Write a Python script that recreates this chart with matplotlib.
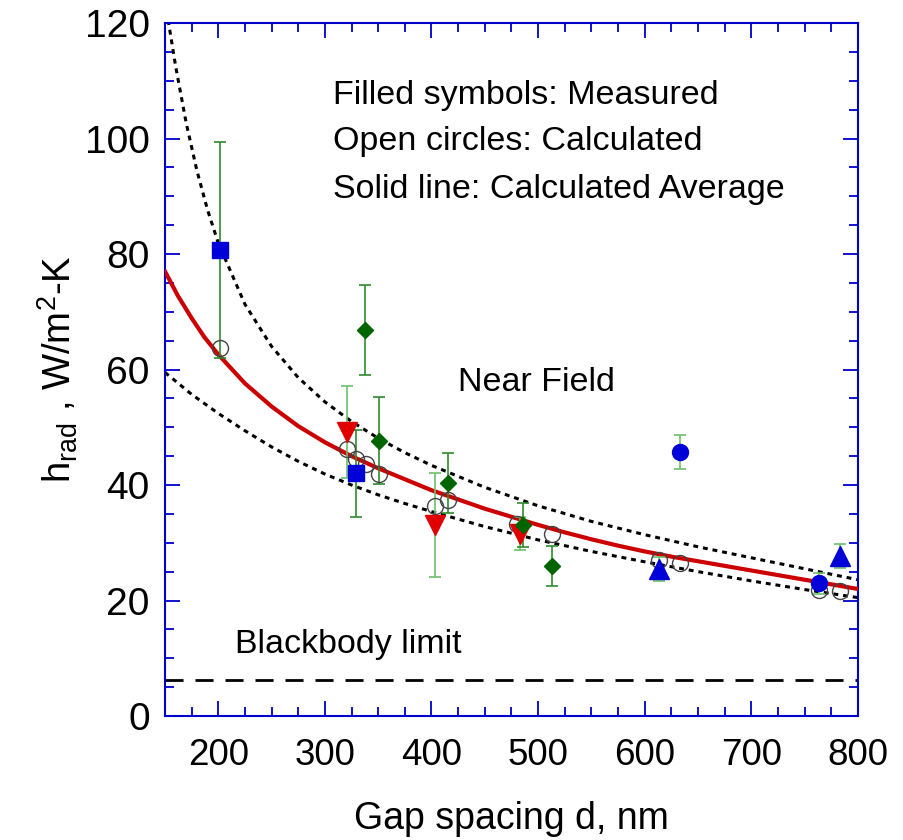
import matplotlib
matplotlib.use('Agg')
import matplotlib.pyplot as plt
from matplotlib.ticker import MultipleLocator

plt.rcParams['font.family'] = ['Liberation Sans', 'DejaVu Sans']
plt.rcParams['mathtext.default'] = 'regular'

# calculated average (solid red line)
avg_d = [150, 162, 175, 187, 200, 225, 250, 275, 300, 325, 350, 375, 400, 425, 450, 475,
         500, 525, 550, 575, 600, 625, 650, 675, 700, 725, 750, 775, 800]
avg_h = [77.0, 72.8, 68.9, 65.6, 62.6, 57.6, 53.6, 50.2, 47.4, 45.0, 42.9, 41.0, 39.1, 37.5,
         35.9, 34.5, 33.1, 31.8, 30.6, 29.5, 28.5, 27.6, 26.8, 26.0, 25.2, 24.4,
         23.6, 22.8, 22.0]

# dotted bounds
upper_d = [153, 160, 170, 180, 190, 200, 225, 250, 275, 300, 325, 350, 375, 400,
           450, 500, 550, 600, 650, 700, 750, 800]
upper_h = [120.5, 112.5, 102.6, 94.4, 87.6, 81.9, 71.3, 64.0, 58.6, 54.4, 51.0,
           48.1, 45.6, 43.4, 39.6, 36.4, 33.7, 31.4, 29.3, 27.4, 25.5, 23.6]
lower_d = [150, 175, 200, 225, 250, 275, 300, 325, 350, 375, 400, 450, 500, 550,
           600, 650, 700, 750, 800]
lower_h = [59.5, 55.7, 52.4, 49.4, 46.6, 44.1, 41.9, 40.0, 38.3, 36.8, 35.4, 32.8,
           30.5, 28.5, 26.7, 25.0, 23.4, 21.9, 20.5]

# calculated values (open circles)
calc_d = [201.6, 321, 329, 338.6, 351, 403.3, 415.8, 480, 513.5, 613.4, 633, 763.5, 783]
calc_h = [63.8, 46.3, 44.5, 43.7, 41.9, 36.4, 37.4, 33.3, 31.5, 27.1, 26.5, 21.9, 21.6]

# measured values with error bars
sq_d, sq_h, sq_err = [201.6, 329], [80.7, 42.0], [18.7, 7.5]
tri_dn_d, tri_dn_h, tri_dn_err = [321, 403.3, 483], [49.2, 33.1, 31.6], [8.0, 9.0, 2.8]
dia_d = [337.6, 351, 415.8, 485.5, 513.5]
dia_h = [66.8, 47.7, 40.3, 33.1, 26.0]
dia_err = [7.75, 7.5, 5.2, 3.75, 3.4]
circ_d, circ_h, circ_err = [633, 763.5], [45.7, 23.0], [2.9, 1.8]
tri_up_d, tri_up_h, tri_up_err = [613.4, 783], [25.5, 27.7], [2.1, 2.0]

blackbody_h = 6.2

axis_blue = '#0000CC'
fig = plt.figure(figsize=(9.04, 8.4), dpi=100)
ax = fig.add_axes([0.1825, 0.1476, 0.7665, 0.825])

ax.plot([150, 800], [blackbody_h, blackbody_h], color='black', lw=2, dashes=(6.5, 4.3), zorder=2)
ax.plot(upper_d, upper_h, color='black', lw=2.2, dashes=(1.6, 1.6), zorder=2)
ax.plot(lower_d, lower_h, color='black', lw=2.2, dashes=(1.6, 1.6), zorder=2)
ax.plot(avg_d, avg_h, color='#CC0000', lw=3, zorder=3)

dark_g, light_g = '#2E8B2E', '#6CBF6C'
ebkw = dict(fmt='none', elinewidth=1.2, capsize=4.3, capthick=1.2, zorder=4)
ax.errorbar(sq_d, sq_h, yerr=sq_err, ecolor=dark_g, **ebkw)
ax.errorbar(tri_dn_d, tri_dn_h, yerr=tri_dn_err, ecolor=light_g, **ebkw)
ax.errorbar(dia_d, dia_h, yerr=dia_err, ecolor=dark_g, **ebkw)
ax.errorbar(circ_d, circ_h, yerr=circ_err, ecolor=light_g, **ebkw)
ax.errorbar(tri_up_d, tri_up_h, yerr=tri_up_err, ecolor=light_g, **ebkw)

ax.plot(calc_d, calc_h, 'o', ms=11.5, mfc='none', mec='#444444', mew=1.0, zorder=5)

ax.plot(sq_d, sq_h, 's', ms=12, color='#0000D8', zorder=6)
ax.plot(tri_dn_d, tri_dn_h, 'v', ms=14, color='#E00000', zorder=6)
ax.plot(dia_d, dia_h, 'D', ms=7.8, color='#006400', zorder=6)
ax.plot(circ_d, circ_h, 'o', ms=11.5, color='#0000D8', zorder=6)
ax.plot(tri_up_d, tri_up_h, '^', ms=14, color='#0000D8', zorder=6)

fs = 24.5
ax.text(307.6, 107.5, 'Filled symbols: Measured', fontsize=fs, va='center')
ax.text(307.6, 99.4, 'Open circles: Calculated', fontsize=fs, va='center')
ax.text(307.6, 91.1, 'Solid line: Calculated Average', fontsize=fs, va='center')
ax.text(424.9, 57.7, 'Near Field', fontsize=fs, va='center')
ax.text(215.7, 12.3, 'Blackbody limit', fontsize=fs, va='center')

ax.set_xlim(150, 800)
ax.set_ylim(0, 120)
ax.xaxis.set_major_locator(MultipleLocator(100))
ax.xaxis.set_minor_locator(MultipleLocator(25))
ax.yaxis.set_major_locator(MultipleLocator(20))
ax.yaxis.set_minor_locator(MultipleLocator(5))
ax.set_xticks([200, 300, 400, 500, 600, 700, 800])

for sp in ax.spines.values():
    sp.set_color(axis_blue)
    sp.set_linewidth(1.5)
ax.tick_params(which='both', direction='in', top=True, right=True, color=axis_blue, width=1.3)
ax.tick_params(which='major', length=11)
ax.tick_params(which='minor', length=6.5)
ax.tick_params(axis='y', labelsize=28, pad=11)
ax.tick_params(axis='x', labelsize=26.5, pad=16)

ax.set_xlabel('Gap spacing d, nm', fontsize=27)
ax.xaxis.set_label_coords(0.5, -0.122)
ax.set_ylabel(r'h$_{rad}$ , W/m$^{2}$-K', fontsize=27.5)
ax.yaxis.set_label_coords(-0.123, 0.5)

fig.savefig('out.png', dpi=100)
